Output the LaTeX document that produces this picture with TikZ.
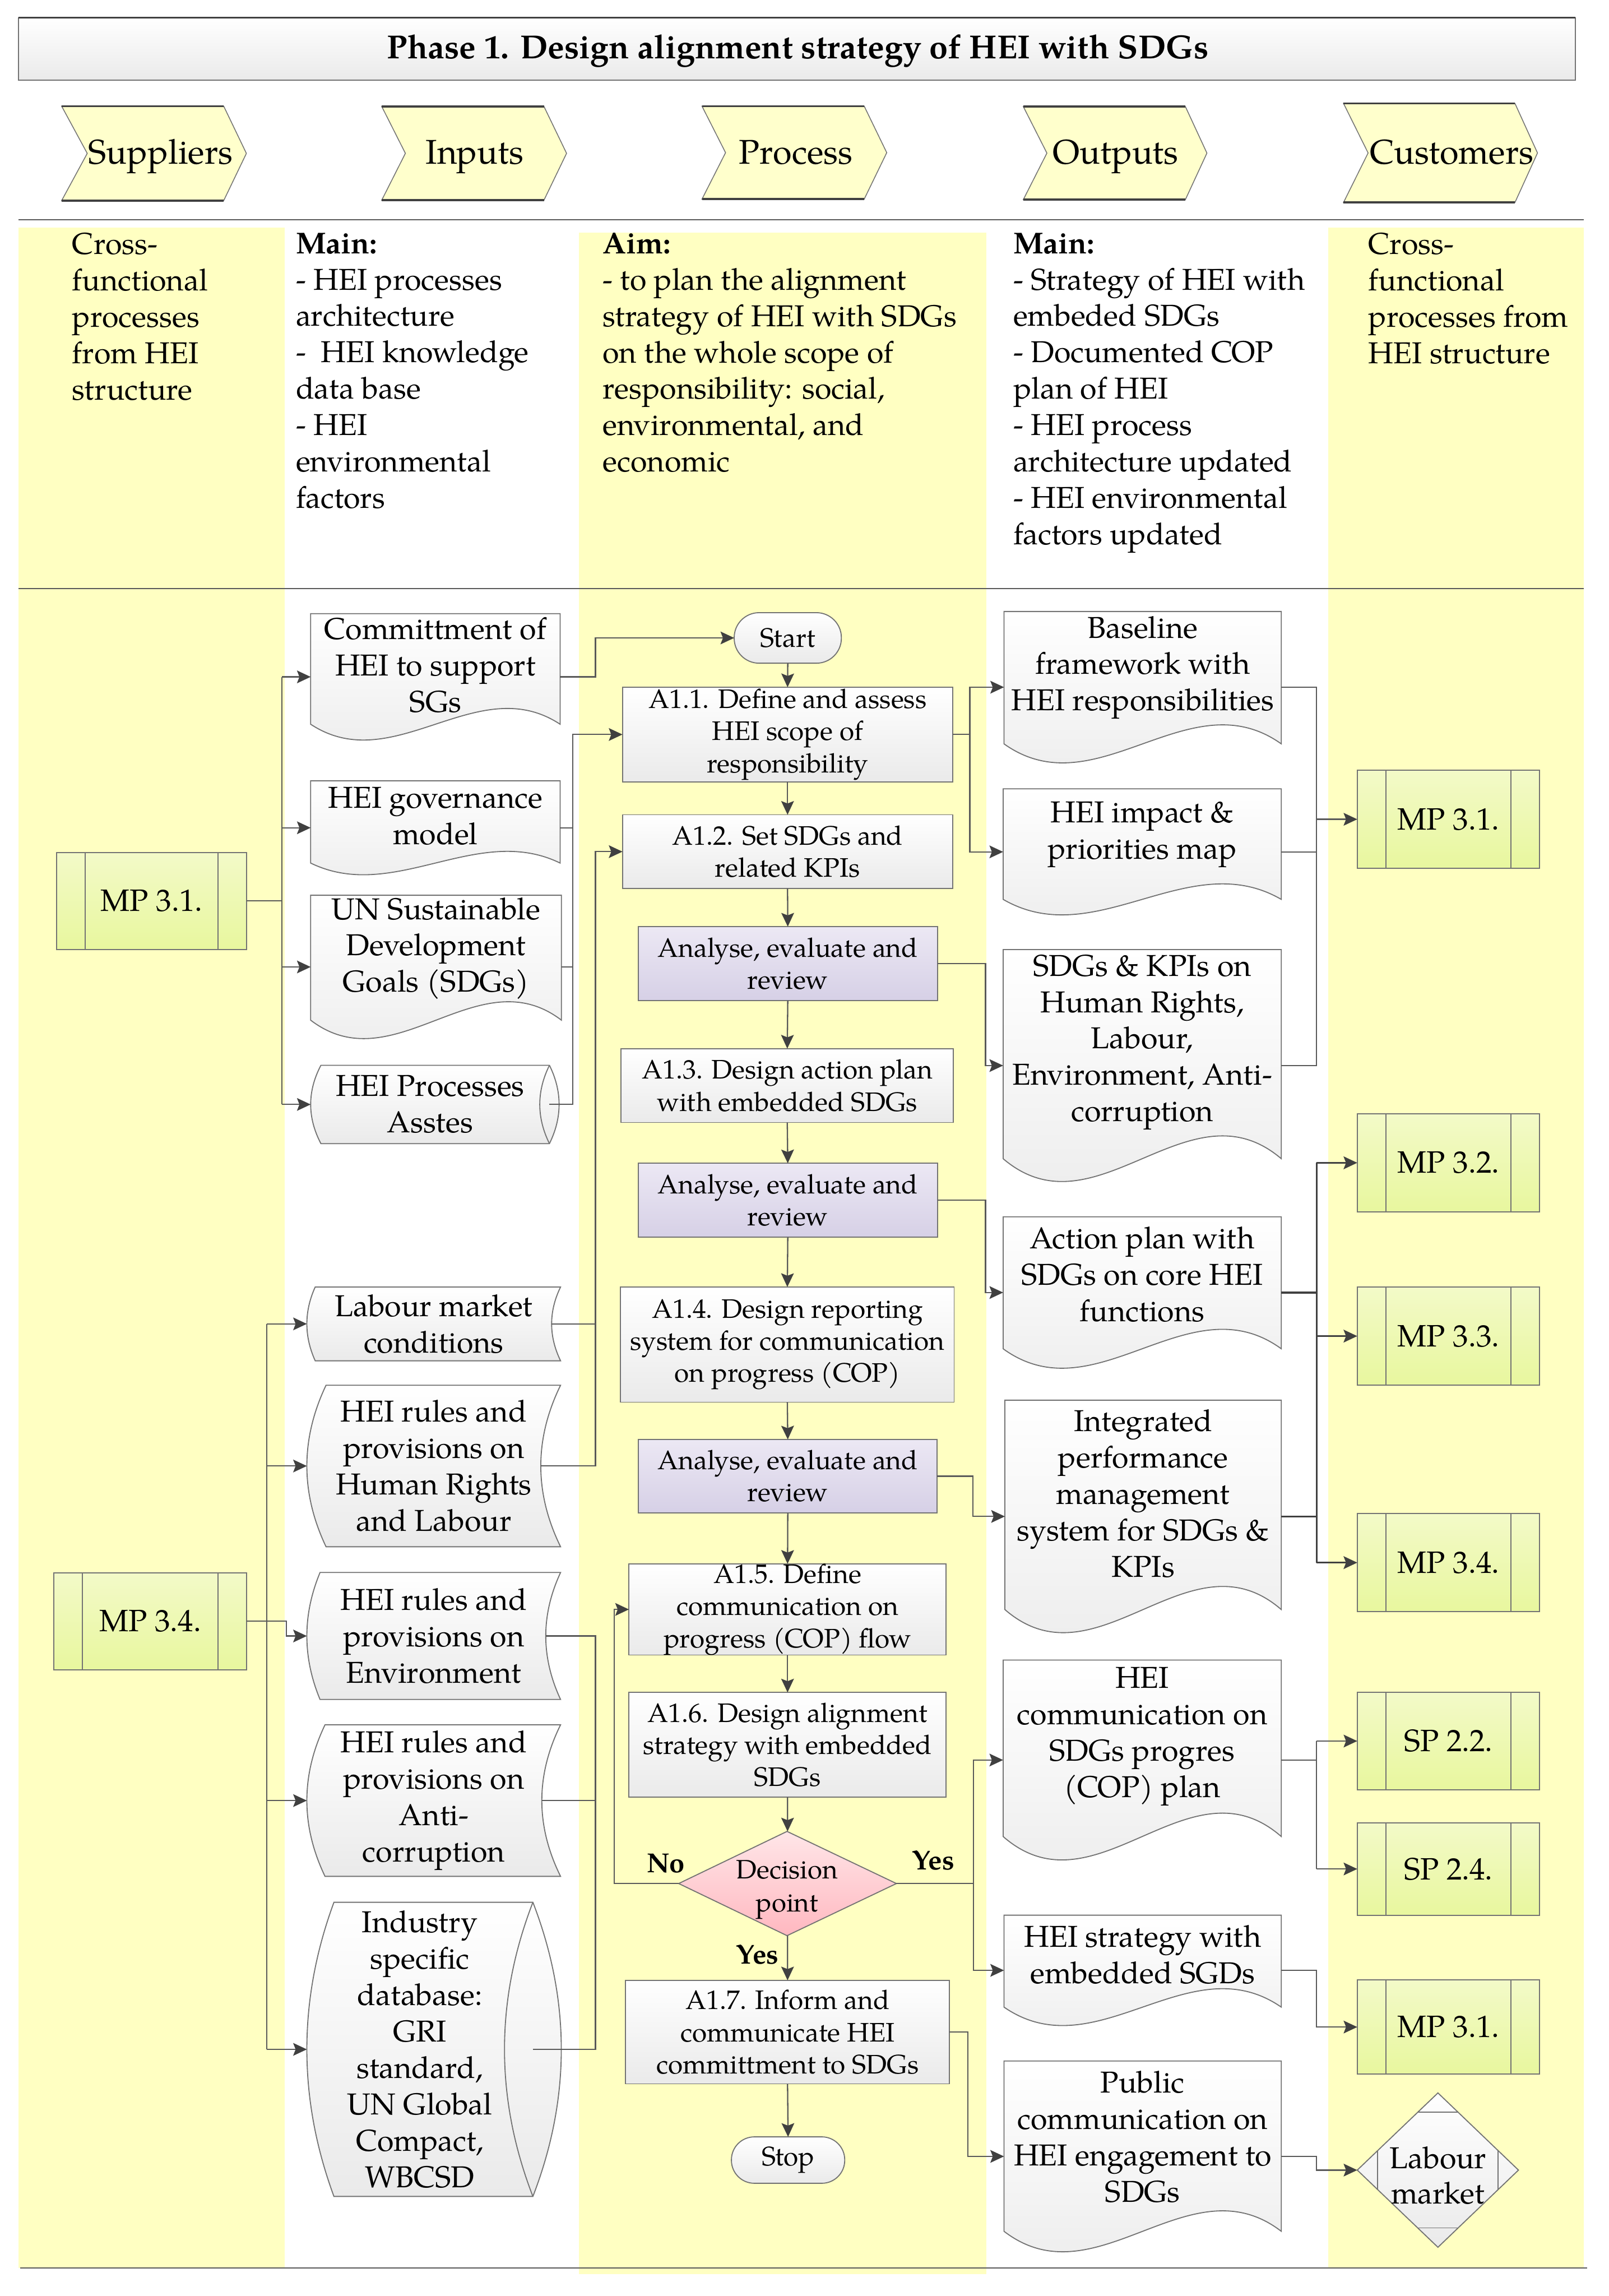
\documentclass[tikz,border=0pt]{standalone}
\usepackage{fontspec}
\setmainfont{texgyrepagella}[Extension=.otf,UprightFont=*-regular,BoldFont=*-bold,ItalicFont=*-italic,BoldItalicFont=*-bolditalic]
\usetikzlibrary{arrows.meta,fit}

\definecolor{ylw}{RGB}{255,255,194}
\definecolor{chev}{RGB}{255,255,204}
\definecolor{bline}{RGB}{115,115,115}
\definecolor{cline}{RGB}{89,89,89}
\definecolor{arrowc}{RGB}{64,64,64}
\definecolor{gbot}{RGB}{234,234,234}
\definecolor{ptop}{RGB}{236,232,244}
\definecolor{pbot}{RGB}{214,208,230}
\definecolor{mtop}{RGB}{243,250,200}
\definecolor{mbot}{RGB}{232,247,158}
\definecolor{dtop}{RGB}{255,230,232}
\definecolor{dbot}{RGB}{255,184,192}

\newcommand\fD{\fontsize{17.6}{21.2}\selectfont}
\newcommand\fP{\fontsize{15.6}{18.7}\selectfont}
\newcommand\fM{\fontsize{18}{21}\selectfont}

\tikzset{
 gbox/.style={top color=white, bottom color=gbot, draw=bline, line width=0.6pt},
 pbox/.style={top color=ptop, bottom color=pbot, draw=bline, line width=0.6pt},
 mbox/.style={top color=mtop, bottom color=mbot, draw=bline, line width=0.6pt},
 dbox/.style={top color=dtop, bottom color=dbot, draw=bline, line width=0.6pt},
 chevsty/.style={fill=chev, draw=bline, line width=0.5pt},
 darkedge/.style={draw=arrowc, line width=1.2pt},
 bl/.style={draw=bline, line width=0.6pt},
 hl/.style={draw=cline, line width=0.7pt},
 conn/.style={draw=cline, line width=0.75pt},
 heavy/.style={draw=arrowc, line width=1.1pt},
 arr/.style={conn, -{Stealth[length=2.8mm,width=2.6mm,inset=0.5mm,color=arrowc]}},
 harr/.style={heavy, -{Stealth[length=2.8mm,width=2.6mm,inset=0.5mm,color=arrowc]}},
 lbl/.style={inner sep=0pt, align=center, font=\fD},
 desc/.style={anchor=north west, align=left, inner sep=0pt, font=\fD},
 chevtxt/.style={anchor=base, inner sep=0pt, font=\fontsize{20}{24}\selectfont},
 yesno/.style={inner sep=0pt, font=\fontsize{16}{19}\selectfont\bfseries},
}

% document shape: name, L, T, R, B, d, text y, text
\newcommand\docnode[8]{%
 \path[gbox] (#2,#3) -- (#4,#3) -- (#4,#5) .. controls ({#4-(#4-#2)/3},{#5-3.46*#6}) and ({#2+(#4-#2)/3},{#5+3.46*#6}) .. (#2,#5) -- cycle;
 \node[fit={(#2,#3) (#4,{#5+#6})}, inner sep=0pt, outer sep=0pt] (#1) {};
 \node[lbl] (#1-t) at ({(#2+#4)/2},#7) {#8};}
% stored data: name, Lo, Lc, T, Rm, R, B, text
\newcommand\stornode[8]{%
 \path[gbox] (#3,#4) -- (#6,#4) .. controls ({#6-4/3*(#6-#5)},{#4+(#7-#4)/3}) and ({#6-4/3*(#6-#5)},{#7-(#7-#4)/3}) .. (#6,#7) -- (#3,#7) .. controls ({#3-4/3*(#3-#2)},{#7-(#7-#4)/3}) and ({#3-4/3*(#3-#2)},{#4+(#7-#4)/3}) .. (#3,#4) -- cycle;
 \node[fit={(#2,#4) (#5,#7)}, inner sep=0pt, outer sep=0pt] (#1) {};
 \node[lbl] (#1-t) at ({(#2+#6)/2},{(#4+#7)/2}) {#8};}
% direct data: name, Lo, Lc, T, Rc, r, B, text
\newcommand\dirnode[8]{%
 \path[gbox] (#3,#4) -- (#5,#4) .. controls ({#5+4/3*#6},{#4+(#7-#4)/3}) and ({#5+4/3*#6},{#7-(#7-#4)/3}) .. (#5,#7) -- (#3,#7) .. controls ({#3-4/3*(#3-#2)},{#7-(#7-#4)/3}) and ({#3-4/3*(#3-#2)},{#4+(#7-#4)/3}) .. (#3,#4) -- cycle;
 \draw[bl] (#5,#4) .. controls ({#5-4/3*#6},{#4+(#7-#4)/3}) and ({#5-4/3*#6},{#7-(#7-#4)/3}) .. (#5,#7);
 \node[fit={(#2,#4) (#5,#7)}, inner sep=0pt, outer sep=0pt] (#1) {};
 \node[lbl] (#1-t) at ({(#2+#5)/2},{(#4+#7)/2}) {#8};}
% process box: style, name, L, T, R, B, text
\newcommand\procnode[7]{%
 \node[#1, inner sep=0pt, outer sep=0pt, align=center, font=\fP, minimum width={(#5-#3)*0.3mm}, minimum height={(#6-#4)*0.3mm}] (#2) at ({(#3+#5)/2},{(#4+#6)/2}) {#7};}
% predefined process: name, L, T, R, B, text
\newcommand\mpnode[6]{%
 \node[mbox, inner sep=0pt, outer sep=0pt, font=\fM, minimum width={(#4-#2)*0.3mm}, minimum height={(#5-#3)*0.3mm}] (#1) at ({(#2+#4)/2},{(#3+#5)/2}) {#6};
 \draw[bl] ({#2+19.5},#3) -- ({#2+19.5},#5);
 \draw[bl] ({#4-19.5},#3) -- ({#4-19.5},#5);}
% chevron: name, L, N, TR, P, T, B, text x, text
\newcommand\chevnode[9]{%
 \path[chevsty] (#2,#6) -- (#4,#6) -- (#5,{(#6+#7)/2}) -- (#4,#7) -- (#2,#7) -- (#3,{(#6+#7)/2}) -- cycle;
 \draw[darkedge] (#2,#6) -- (#4,#6);
 \draw[darkedge] (#2,#7) -- (#4,#7);
 \node[chevtxt] (#1) at (#8,112) {#9};}

\begin{document}
\begin{tikzpicture}[x=0.3mm,y=-0.3mm]
\useasboundingbox (0,0) rectangle (1099,1568);
\fill[white] (0,0) rectangle (1099,1568);

% columns
\fill[ylw] (12.6,155.6) rectangle (194.3,1549);
\fill[ylw] (395.4,158.9) rectangle (673.9,1553);
\fill[ylw] (907.3,155.6) rectangle (1081.8,1549);
\draw[hl] (12.6,150) -- (1082,150);
\draw[hl] (12.6,402) -- (1082,402);
\draw[hl] (13.7,1549) -- (1084,1549);

% title
\path[gbox] (12.6,12.1) rectangle (1076,54.6);
\draw[darkedge] (12.6,12.1) -- (1076,12.1);
\node[anchor=base, inner sep=0pt, font=\fontsize{19.4}{23}\selectfont\bfseries] (title) at (545,40.1) {Phase 1. Design alignment strategy of HEI with SDGs};

% chevrons
\chevnode{hsup}{42.1}{59.6}{152.8}{168.3}{72.5}{137}{109.7}{Suppliers}
\chevnode{hinp}{260.8}{276.9}{371.6}{387}{72.8}{136.6}{324.2}{Inputs}
\chevnode{hpro}{479.5}{495.6}{590.3}{605.7}{72.5}{136}{543.7}{Process}
\chevnode{hout}{699}{715.1}{809.7}{824.4}{72.8}{136.3}{762}{Outputs}
\chevnode{hcus}{917.7}{934.5}{1034.8}{1050.2}{70.6}{138.3}{991.6}{Customers}

% descriptions
\node[desc] (d1) at (49.1,158.8) {Cross-\\functional\\processes\\from HEI\\structure};
\node[desc] (d2) at (201.9,158.8) {\textbf{Main:}\\- HEI processes\\architecture\\-\ \ HEI knowledge\\data base\\- HEI\\environmental\\factors};
\node[desc] (d3) at (411.5,158.8) {\textbf{Aim:}\\- to plan the alignment\\strategy of HEI with SDGs\\on the whole scope of\\responsibility: social,\\environmental, and\\economic};
\node[desc] (d4) at (691.9,158.8) {\textbf{Main:}\\- Strategy of HEI with\\embeded SDGs\\- Documented COP\\plan of HEI\\- HEI process\\architecture updated\\- HEI environmental\\factors updated};
\node[desc] (d5) at (934.5,158.8) {Cross-\\functional\\processes from\\HEI structure};

% suppliers
\mpnode{mp31a}{38.6}{582.2}{168.5}{648.4}{MP 3.1.}
\mpnode{mp34a}{36.8}{1074}{168.5}{1140.4}{MP 3.4.}

% inputs
\docnode{commit}{212.2}{419.1}{382.6}{494.6}{10.8}{454.3}{Committment of\\HEI to support\\SGs}
\docnode{gov}{212.2}{533.2}{382.6}{589.4}{8}{557.2}{HEI governance\\model}
\docnode{un}{212.2}{611.4}{383.5}{696.7}{12.6}{647.7}{UN Sustainable\\Development\\Goals (SDGs)}
\dirnode{procA}{212.2}{219.2}{727.5}{375.3}{6.6}{781}{HEI Processes\\Asstes}
\stornode{lab}{209.6}{215.3}{878.9}{376.8}{382.9}{929.3}{Labour market\\conditions}
\stornode{hr}{209.6}{222.7}{946}{369.4}{382.9}{1056.3}{HEI rules and\\provisions on\\Human Rights\\and Labour}
\stornode{env}{209.6}{218.6}{1073.9}{372.8}{382.9}{1160.6}{HEI rules and\\provisions on\\Environment}
\stornode{anti}{209.6}{222}{1177.9}{370.1}{382.9}{1281.4}{HEI rules and\\provisions on\\Anti-\\corruption}
\dirnode{ind}{209.6}{228.1}{1299.1}{364}{19.4}{1500}{Industry\\specific\\database:\\GRI\\standard,\\UN Global\\Compact,\\WBCSD}

% process
\procnode{gbox,rounded corners=5.1mm}{start}{501.5}{418.4}{574.7}{452.9}{Start}
\procnode{gbox}{a11}{425.2}{469.3}{650.7}{533.9}{A1.1. Define and assess\\HEI scope of\\responsibility}
\procnode{gbox}{a12}{425.2}{556.4}{650.7}{606.8}{A1.2. Set SDGs and\\related KPIs}
\procnode{pbox}{an1}{435.9}{632.8}{640.3}{683.3}{Analyse, evaluate and\\review}
\procnode{gbox}{a13}{424.2}{716.1}{651.3}{766.6}{A1.3. Design action plan\\with embedded SDGs}
\procnode{pbox}{an2}{435.9}{794.4}{640.3}{844.9}{Analyse, evaluate and\\review}
\procnode{gbox}{a14}{423.9}{878.9}{651.7}{957.6}{A1.4. Design reporting\\system for communication\\on progress (COP)}
\procnode{pbox}{an3}{436}{983}{640.2}{1033.2}{Analyse, evaluate and\\review}
\procnode{gbox}{a15}{429.6}{1068.1}{646.3}{1130.1}{A1.5. Define\\communication on\\progress (COP) flow}
\procnode{gbox}{a16}{429.6}{1155.8}{646.3}{1227.3}{A1.6. Design alignment\\strategy with embedded\\SDGs}
\path[dbox] (537.6,1250.7) -- (612.3,1286.3) -- (537.6,1321.9) -- (463.6,1286.3) -- cycle;
\node[fit={(463.6,1250.7) (612.3,1321.9)}, inner sep=0pt, outer sep=0pt] (dec) {};
\node[inner sep=0pt, align=center, font=\fontsize{15.5}{19.4}\selectfont] (dec-t) at (537.6,1290.5) {Decision\\point};
\procnode{gbox}{a17}{427.3}{1352.4}{648.6}{1423.1}{A1.7. Inform and\\communicate HEI\\committment to SDGs}
\procnode{gbox,rounded corners=4.7mm}{stop}{499.6}{1459.3}{577}{1491}{Stop}

% outputs
\docnode{base}{685.8}{417.6}{875.2}{508}{13}{455.9}{Baseline\\framework with\\HEI responsibilities}
\docnode{impact}{685.2}{538.7}{875.2}{614.2}{10.6}{570}{HEI impact \&\\priorities map}
\docnode{sdgs}{685.2}{648.5}{875.2}{791.3}{15.6}{711.8}{SDGs \& KPIs on\\Human Rights,\\Labour,\\Environment, Anti-\\corruption}
\docnode{act}{685.2}{831}{875.2}{921.1}{13.3}{870.2}{Action plan with\\SDGs on core HEI\\functions}
\docnode{ipm}{686.4}{956.2}{875.2}{1099.2}{15.8}{1019.9}{Integrated\\performance\\management\\system for SDGs \&\\KPIs}
\docnode{cop}{685.2}{1133.7}{875.2}{1254.2}{16}{1185.9}{HEI\\communication on\\SDGs progres\\(COP) plan}
\docnode{strat}{685.8}{1307.9}{875.2}{1370.7}{12.6}{1335}{HEI strategy with\\embedded SGDs}
\docnode{pub}{685.8}{1407.5}{875.2}{1523.8}{14}{1459.2}{Public\\communication on\\HEI engagement to\\SDGs}

% customers
\mpnode{mp31b}{927.1}{526.1}{1051.6}{592.9}{MP 3.1.}
\mpnode{mp32}{927.1}{760.7}{1051.6}{827.5}{MP 3.2.}
\mpnode{mp33}{927.1}{879}{1051.6}{945.9}{MP 3.3.}
\mpnode{mp34b}{927.1}{1033.6}{1051.6}{1100.7}{MP 3.4.}
\mpnode{sp22}{927.1}{1155.8}{1051.6}{1222.2}{SP 2.2.}
\mpnode{sp24}{927.1}{1244.8}{1051.6}{1307.9}{SP 2.4.}
\mpnode{mp31c}{927.1}{1352.1}{1051.6}{1416.5}{MP 3.1.}
\path[gbox] (982.2,1429.3) -- (1037.2,1482) -- (982.2,1534.7) -- (927.1,1482) -- cycle;
\draw[bl] (968.4,1442.5) -- (996,1442.5);
\draw[bl] (968.4,1521.5) -- (996,1521.5);
\draw[bl] (940.9,1468.8) -- (940.9,1495.2);
\draw[bl] (1023.4,1468.8) -- (1023.4,1495.2);
\node[fit={(927.1,1429.3) (1037.2,1534.7)}, inner sep=0pt, outer sep=0pt] (lm) {};
\node[inner sep=0pt, align=center, font=\fontsize{17.6}{20.7}\selectfont] (lm-t) at (982.2,1485.6) {Labour\\market};

% bus coordinates
\coordinate (xA) at (192.5,0);
\coordinate (xB) at (406.7,0);
\coordinate (xC) at (391.1,0);
\coordinate (xE) at (182.2,0);
\coordinate (xF) at (195.7,0);
\coordinate (xNo) at (419.5,0);
\coordinate (xYes) at (665,0);
\coordinate (xG) at (661.1,0);
\coordinate (xH) at (662.5,0);
\coordinate (xI) at (673.2,0);
\coordinate (xJ) at (664.5,0);
\coordinate (xK) at (899.3,0);

% suppliers -> inputs
\draw[conn] (mp31a.east) -- (mp31a.east -| xA);
\draw[conn] (commit.west -| xA) -- (procA.west -| xA);
\foreach \n in {commit,gov,un,procA} \draw[arr] (\n.west -| xA) -- (\n.west);
\draw[conn] (lab.west -| xE) -- (ind.west -| xE);
\foreach \n in {lab,hr,anti,ind} \draw[arr] (\n.west -| xE) -- (\n.west);
\draw[arr] (mp34a.east) -- (mp34a.east -| xF) -- (env.west -| xF) -- (env.west);

% inputs -> process
\draw[arr] (commit.east) -- (commit.east -| xB) |- (start.west);
\draw[conn] (gov.east) -- (gov.east -| xC);
\draw[conn] (un.east) -- (un.east -| xC);
\draw[arr] (procA.east) -- (procA.east -| xC) -- (a11.west -| xC) -- (a11.west);
\draw[conn] (lab.east) -- (lab.east -| xB);
\draw[arr] (hr.east) -- (hr.east -| xB) -- (a12.west -| xB) -- (a12.west);
\draw[conn] (env.east) -- (env.east -| xB) -- (ind.east -| xB) -- (ind.east);
\draw[conn] (anti.east) -- (anti.east -| xB);

% process chain
\draw[arr] (start.south) -- (a11.north);
\draw[arr] (a11.south) -- (a12.north);
\draw[arr] (a12.south) -- (an1.north);
\draw[arr] (an1.south) -- (a13.north);
\draw[arr] (a13.south) -- (an2.north);
\draw[arr] (an2.south) -- (a14.north);
\draw[arr] (a14.south) -- (an3.north);
\draw[arr] (an3.south) -- (a15.north);
\draw[arr] (a15.south) -- (a16.north);
\draw[arr] (a16.south) -- (dec.north);
\draw[arr] (dec.south) -- (a17.north);
\draw[arr] (a17.south) -- (stop.north);
\draw[arr] (dec.west) -- (dec.west -| xNo) |- (a15.west);
\draw[conn] (dec.east) -- (dec.east -| xYes);
\draw[arr] (dec.east -| xYes) |- (cop.west);
\draw[arr] (dec.east -| xYes) |- (strat.west);
\node[yesno] (lno) at (454.9,1272.6) {No};
\node[yesno] (lyes1) at (637.5,1270.6) {Yes};
\node[yesno] (lyes2) at (517.4,1334.7) {Yes};

% process -> outputs
\draw[conn] (a11.east) -- (a11.east -| xH);
\draw[arr] (a11.east -| xH) |- (base.west);
\draw[arr] (a11.east -| xH) |- (impact.west);
\draw[arr] (an1.east) -- (an1.east -| xI) |- (sdgs.west);
\draw[arr] (an2.east) -- (an2.east -| xI) |- (act.west);
\draw[arr] (an3.east) -- (an3.east -| xJ) |- (ipm.west);
\draw[arr] (a17.east) -- (a17.east -| xG) |- (pub.west);

% outputs -> customers
\draw[conn] (base.east) -- (base.east -| xK) -- (sdgs.east -| xK) -- (sdgs.east);
\draw[conn] (impact.east) -- (impact.east -| xK);
\draw[arr] (mp31b.west -| xK) -- (mp31b.west);
\draw[heavy] (act.east) -- (act.east -| xK);
\draw[heavy] (ipm.east) -- (ipm.east -| xK);
\draw[heavy] (mp32.west -| xK) -- (mp34b.west -| xK);
\foreach \n in {mp32,mp33,mp34b} \draw[harr] (\n.west -| xK) -- (\n.west);
\draw[conn] (cop.east) -- (cop.east -| xK);
\draw[conn] (sp22.west -| xK) -- (sp24.west -| xK);
\foreach \n in {sp22,sp24} \draw[arr] (\n.west -| xK) -- (\n.west);
\draw[arr] (strat.east) -- (strat.east -| xK) |- (mp31c.west);
\draw[arr] (pub.east) -- (pub.east -| xK) |- (lm.west);
\end{tikzpicture}
\end{document}
